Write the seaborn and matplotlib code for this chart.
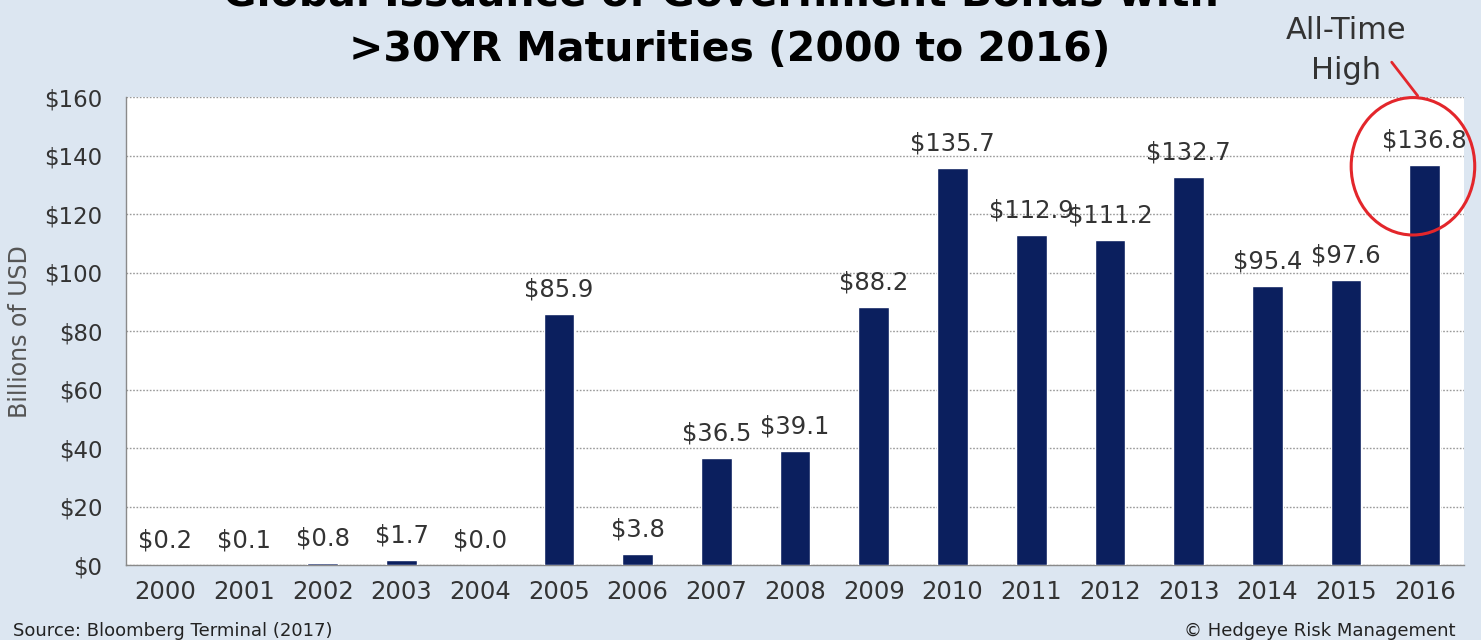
import matplotlib
matplotlib.use("Agg")
import matplotlib.pyplot as plt
from matplotlib.patches import Ellipse
import seaborn as sns
import pandas as pd

years = ["2000", "2001", "2002", "2003", "2004", "2005", "2006", "2007", "2008",
         "2009", "2010", "2011", "2012", "2013", "2014", "2015", "2016"]
issuance = [0.2, 0.1, 0.8, 1.7, 0.0, 85.9, 3.8, 36.5, 39.1,
            88.2, 135.7, 112.9, 111.2, 132.7, 95.4, 97.6, 136.8]
y_ticks = [0, 20, 40, 60, 80, 100, 120, 140, 160]

bg = "#dce6f1"
navy = "#0b1f5e"
text_col = "#333333"

sns.set_theme(style="white")
plt.rcParams["font.family"] = ["DejaVu Sans"]

df = pd.DataFrame({"year": years, "value": issuance})

fig = plt.figure(figsize=(14.81, 6.4), dpi=100, facecolor=bg)
ax = fig.add_axes([0.0851, 0.117, 0.9035, 0.731])
ax.set_facecolor("white")

sns.barplot(data=df, x="year", y="value", color=navy, saturation=1,
            width=0.39, ax=ax, zorder=3)

ax.set_xlim(-0.5, 16.5)
ax.set_ylim(0, 160)
ax.set_yticks(y_ticks)
ax.set_yticklabels([f"${v}" for v in y_ticks], fontsize=16.5, color=text_col)
ax.yaxis.grid(True, linestyle=(0, (1.2, 1.2)), color="#9a9a9a", linewidth=1, zorder=0)
ax.xaxis.grid(False)

ax.set_xticks(range(len(years)))
ax.set_xticklabels(years, fontsize=17.5, color=text_col)
ax.set_xticks([i - 0.5 for i in range(len(years) + 1)], minor=True)
ax.tick_params(axis="x", which="major", length=0, pad=11)
ax.tick_params(axis="x", which="minor", length=6, width=1, color="#8a8a8a", direction="out")
ax.tick_params(axis="y", which="major", length=6, width=1, color="#8a8a8a", direction="out", pad=11)

for side in ["top", "right"]:
    ax.spines[side].set_visible(False)
for side in ["left", "bottom"]:
    ax.spines[side].set_color("#8a8a8a")
    ax.spines[side].set_linewidth(1)

ax.set_xlabel("")
ax.set_ylabel("Billions of USD", fontsize=17, color="#555555")
ax.yaxis.set_label_coords(-0.0702, 0.5)

ax.bar_label(ax.containers[0], labels=[f"${v:.1f}" for v in issuance],
             padding=9, fontsize=17.5, color=text_col)

# Highlight of the record year
ax.add_patch(Ellipse((15.85, 136.4), 1.57, 47, fill=False, edgecolor="#e3262b",
                     linewidth=2.2, clip_on=False, zorder=5))
ax.plot([15.58, 15.91], [172, 160.5], color="#e3262b", linewidth=2,
        clip_on=False, zorder=5)
ax.text(15.0, 176, "All-Time\nHigh", ha="center", va="center", fontsize=22,
        color=text_col, linespacing=1.45, clip_on=False)

fig.text(0.487, 0.978, "Global Issuance of Government Bonds with", ha="center",
         va="bottom", fontsize=29.5, fontweight="heavy", color="black")
fig.text(0.493, 0.922, ">30YR Maturities (2000 to 2016)", ha="center",
         va="center", fontsize=29.5, fontweight="heavy", color="black")

fig.text(0.009, 0.014, "Source: Bloomberg Terminal (2017)", ha="left", va="center",
         fontsize=13, color="#222222")
fig.text(0.983, 0.014, "\u00a9 Hedgeye Risk Management", ha="right", va="center",
         fontsize=13, color="#222222")

fig.savefig("out.png", dpi=100, facecolor=bg)
